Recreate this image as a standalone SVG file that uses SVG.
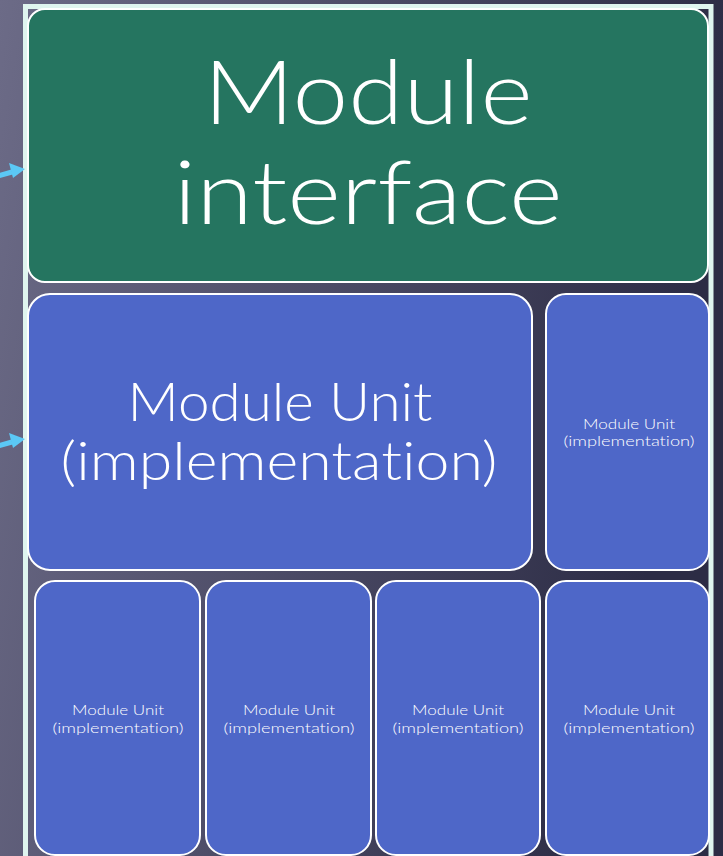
<svg xmlns="http://www.w3.org/2000/svg" width="723" height="856" viewBox="0 0 723 856">
  <defs>
    <linearGradient id="bg" x1="0" y1="0" x2="723" y2="120" gradientUnits="userSpaceOnUse">
      <stop offset="0" stop-color="#6c6b87"/>
      <stop offset="1" stop-color="#2c2c45"/>
    </linearGradient>
    <style>
      .frame { fill: none; stroke: #dff5ef; stroke-width: 5; }
      .iface { fill: #257560; stroke: #ffffff; stroke-width: 2; }
      .unit { fill: #4e67c8; stroke: #ffffff; stroke-width: 2; }
      .t { font-family: Lato, "Liberation Sans", sans-serif; font-weight: 300; fill: #ffffff; text-anchor: middle; font-variant-ligatures: none; }
      .big { font-size: 88px; }
      .mid { font-size: 53px; }
      .small { font-size: 14px; }
      .conn { fill: none; stroke: #5bc8f5; stroke-width: 5; }
      .head { fill: #5bc8f5; }
    </style>
  </defs>

  <rect width="723" height="856" fill="url(#bg)"/>

  <!-- outer frame around the module -->
  <rect class="frame" x="25.5" y="6.5" width="685.5" height="870"/>

  <g id="module-interface">
    <rect class="iface" x="28" y="9" width="680" height="273" rx="17"/>
    <text class="t big" x="368" y="124" textLength="329" lengthAdjust="spacingAndGlyphs">Module</text>
    <text class="t big" x="368" y="224" textLength="389" lengthAdjust="spacingAndGlyphs">interface</text>
  </g>

  <g id="unit-main">
    <rect class="unit" x="28" y="294" width="504" height="276" rx="22"/>
    <text class="t mid" x="280" y="421" textLength="305" lengthAdjust="spacingAndGlyphs">Module Unit</text>
    <text class="t mid" x="279" y="480" textLength="437" lengthAdjust="spacingAndGlyphs">(implementation)</text>
  </g>

  <g id="unit-right">
    <rect class="unit" x="546" y="294" width="163" height="276" rx="20"/>
    <text class="t small" x="629" y="429" textLength="92" lengthAdjust="spacingAndGlyphs">Module Unit</text>
    <text class="t small" x="629" y="446" textLength="131" lengthAdjust="spacingAndGlyphs">(implementation)</text>
  </g>

  <g id="unit-1">
    <rect class="unit" x="35" y="581" width="165" height="274" rx="20"/>
    <text class="t small" x="118" y="715" textLength="92" lengthAdjust="spacingAndGlyphs">Module Unit</text>
    <text class="t small" x="118" y="733" textLength="131" lengthAdjust="spacingAndGlyphs">(implementation)</text>
  </g>

  <g id="unit-2">
    <rect class="unit" x="206" y="581" width="165" height="274" rx="20"/>
    <text class="t small" x="289" y="715" textLength="92" lengthAdjust="spacingAndGlyphs">Module Unit</text>
    <text class="t small" x="289" y="733" textLength="131" lengthAdjust="spacingAndGlyphs">(implementation)</text>
  </g>

  <g id="unit-3">
    <rect class="unit" x="376" y="581" width="164" height="274" rx="20"/>
    <text class="t small" x="458" y="715" textLength="92" lengthAdjust="spacingAndGlyphs">Module Unit</text>
    <text class="t small" x="458" y="733" textLength="131" lengthAdjust="spacingAndGlyphs">(implementation)</text>
  </g>

  <g id="unit-4">
    <rect class="unit" x="546" y="581" width="163" height="274" rx="20"/>
    <text class="t small" x="629" y="715" textLength="92" lengthAdjust="spacingAndGlyphs">Module Unit</text>
    <text class="t small" x="629" y="733" textLength="131" lengthAdjust="spacingAndGlyphs">(implementation)</text>
  </g>

  <g id="connectors">
    <line class="conn" x1="-6" y1="177" x2="12" y2="172"/>
    <polygon class="head" points="25,169 9,163 13,178"/>
    <line class="conn" x1="-6" y1="447" x2="12" y2="442"/>
    <polygon class="head" points="25,439 9,433 13,448"/>
  </g>
</svg>
